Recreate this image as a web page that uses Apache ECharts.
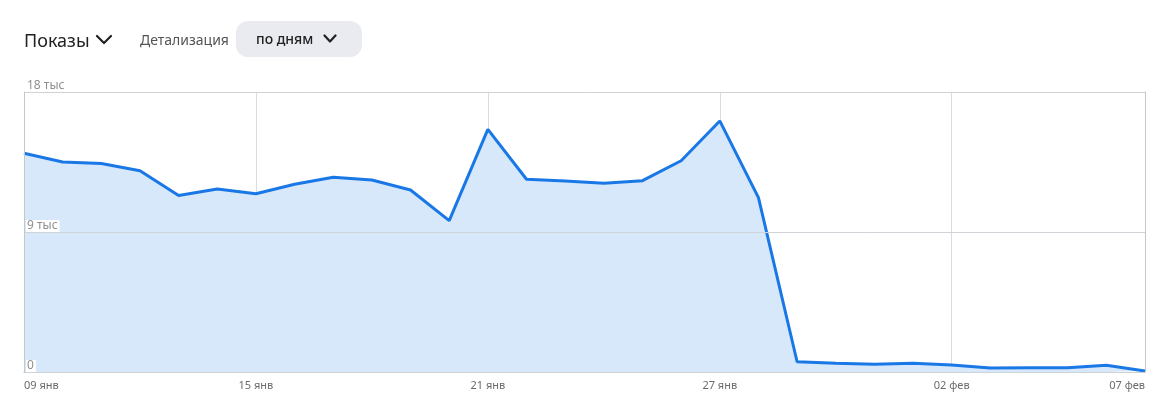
<!DOCTYPE html>
<html>
<head>
<meta charset="utf-8">
<script src="https://cdn.jsdelivr.net/npm/echarts@6/dist/echarts.min.js"></script>
<style>
  html, body { margin: 0; padding: 0; background: #fff; width: 1174px; height: 420px; overflow: hidden; font-family: "Noto Sans", "Open Sans", sans-serif; }
  #chart { position: absolute; left: 0; top: 0; width: 1174px; height: 420px; }
  .hdr { position: absolute; white-space: nowrap; }
  #title { left: 24px; top: 27px; font-size: 18px; color: #222; line-height: 26px; font-weight: 400; }
  #title svg { position: absolute; left: 71px; top: 7px; }
  #detail { left: 140px; top: 30px; font-size: 14px; color: #555; line-height: 20px; }
  #pill { left: 236px; top: 21px; width: 126px; height: 36px; border-radius: 12px; background: #e9ebf0; }
  #pill span { position: absolute; left: 20px; top: 8px; font-size: 14px; font-weight: 500; color: #222; line-height: 20px; }
  #pill svg { position: absolute; left: 87px; top: 13px; }
</style>
</head>
<body>
<div id="chart"></div>
<div class="hdr" id="title">Показы<svg width="18" height="12" viewBox="0 0 18 12"><polyline points="2,2 9,9 16,2" fill="none" stroke="#222" stroke-width="2.2" stroke-linecap="round" stroke-linejoin="round"/></svg></div>
<div class="hdr" id="detail">Детализация</div>
<div class="hdr" id="pill"><span>по дням</span><svg width="14" height="10" viewBox="0 0 14 10"><polyline points="1.5,1.5 7,7.5 12.5,1.5" fill="none" stroke="#222" stroke-width="2.2" stroke-linecap="round" stroke-linejoin="round"/></svg></div>
<script>
const categories = [
  "09 янв","10 янв","11 янв","12 янв","13 янв","14 янв","15 янв","16 янв","17 янв","18 янв",
  "19 янв","20 янв","21 янв","22 янв","23 янв","24 янв","25 янв","26 янв","27 янв","28 янв",
  "29 янв","30 янв","31 янв","01 фев","02 фев","03 фев","04 фев","05 фев","06 фев","07 фев"
];
const impressions = [
  14060, 13500, 13400, 12940, 11350, 11770, 11460, 12070, 12520, 12340,
  11700, 9730, 15600, 12390, 12280, 12130, 12300, 13580, 16140, 11210,
  660, 560, 500, 560, 450, 260, 280, 280, 430, 60
];
const xLabelIndices = [0, 6, 12, 18, 24, 29];
const yTicks = [0, 9000, 18000];
const yTickLabels = { 0: "0", 9000: "9 тыс", 18000: "18 тыс" };

const chart = echarts.init(document.getElementById('chart'), null, { renderer: 'canvas' });
const showIdx = (i) => xLabelIndices.indexOf(i) >= 0;
chart.setOption({
  animation: false,
  grid: { left: 24, right: 29, top: 92, bottom: 48, containLabel: false },
  xAxis: {
    type: 'category',
    data: categories,
    boundaryGap: false,
    axisLine: { show: true, lineStyle: { color: '#b4b8bd', width: 1 } },
    axisTick: { show: false },
    axisLabel: {
      interval: (i) => showIdx(i),
      color: '#6b6b6b', fontSize: 11, margin: 8,
      fontFamily: 'Noto Sans',
      alignMinLabel: 'left', alignMaxLabel: 'right'
    },
    splitLine: { show: true, interval: (i) => showIdx(i) && i !== 0 && i !== 29, lineStyle: { color: '#d8dce2', width: 1 } }
  },
  yAxis: [{
    type: 'value',
    min: 0, max: 18000, interval: 9000,
    axisLine: { show: true, lineStyle: { color: '#c4c7cc', width: 1 } },
    axisTick: { show: false },
    splitLine: { show: true, lineStyle: { color: '#cfd3d8', width: 1 } },
    axisLabel: {
      inside: true, margin: 2,
      verticalAlign: 'bottom', align: 'left',
      color: '#8f8f8f', fontSize: 12, fontFamily: 'Noto Sans',
      backgroundColor: '#ffffff', padding: [0, 2, 0, 1],
      formatter: (v) => yTickLabels[v] !== undefined ? yTickLabels[v] : ''
    },
    z: 10
  }, {
    type: 'value', position: 'right',
    min: 0, max: 18000, interval: 9000,
    axisLine: { show: true, lineStyle: { color: '#c4c7cc', width: 1 } },
    axisTick: { show: false }, axisLabel: { show: false }, splitLine: { show: false }
  }],
  series: [{
    type: 'line',
    data: impressions,
    symbol: 'none',
    lineStyle: { color: '#1a78e6', width: 3 },
    itemStyle: { color: '#1a78e6' },
    areaStyle: { color: '#d6e8fa', opacity: 1 },
    z: 2
  }]
});
</script>
</body>
</html>
